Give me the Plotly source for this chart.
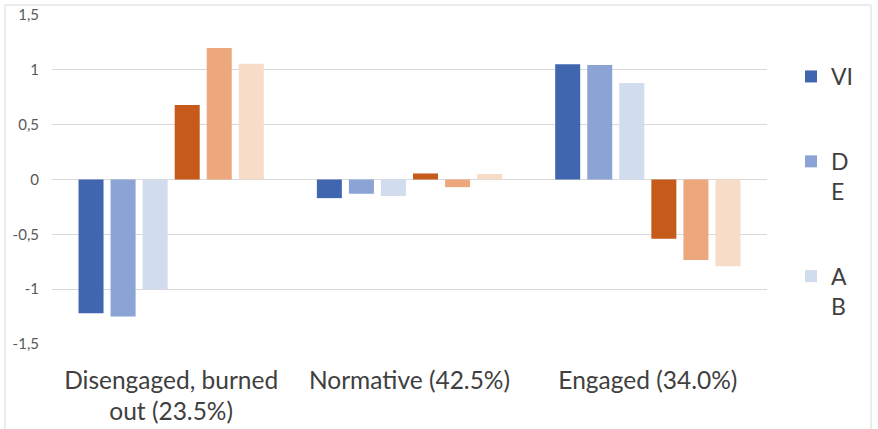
import plotly.graph_objects as go

# Cluster categories and the six series of standardized scores
categories = ["Disengaged, burned<br>out (23.5%)", "Normative (42.5%)", "Engaged (34.0%)"]
series_names = ["VI", "D<br>E", "A<br>B", "VI (2)", "DE (2)", "AB (2)"]
vi_blue = [-1.22, -0.17, 1.05]
de_blue = [-1.25, -0.13, 1.045]
ab_blue = [-1.00, -0.15, 0.88]
vi_orange = [0.68, 0.055, -0.54]
de_orange = [1.20, -0.07, -0.735]
ab_orange = [1.055, 0.05, -0.79]

y_tickvals = [-1.5, -1, -0.5, 0, 0.5, 1, 1.5]
y_ticktext = ["-1,5", "-1", "-0,5", "0", "0,5", "1", "1,5"]

colors = ["#4066b0", "#8ba4d5", "#d1dcee", "#c55a1b", "#eca87c", "#f7dcc8"]
values = [vi_blue, de_blue, ab_blue, vi_orange, de_orange, ab_orange]
in_legend = [True, True, True, False, False, False]

FONT = "Lato, Noto Sans, sans-serif"

fig = go.Figure()
for i, (name, vals, col, show) in enumerate(zip(series_names, values, colors, in_legend)):
    fig.add_trace(go.Bar(
        x=categories, y=vals, name=name,
        marker=dict(color=col, line=dict(width=0)),
        showlegend=show, legendgroup=f"g{i}",
    ))

fig.update_layout(
    width=878, height=429,
    margin=dict(l=52, r=111, t=15, b=85, autoexpand=False),
    paper_bgcolor="white", plot_bgcolor="white",
    barmode="group", bargap=0.193, bargroupgap=0.22,
    font=dict(family=FONT, color="#404040"),
    legend=dict(
        xref="container", yref="container",
        x=791 / 878, xanchor="left",
        y=1 - 55 / 429, yanchor="top",
        traceorder="grouped", tracegroupgap=52,
        valign="top", maxheight=400,
        font=dict(size=23, color="#404040", family=FONT),
        bgcolor="rgba(0,0,0,0)",
    ),
    shapes=[dict(
        type="rect", xref="paper", yref="paper",
        x0=-47 / 715, x1=819 / 715, y0=-0.5, y1=1 + 10 / 329,
        line=dict(color="#d9d9d9", width=1), fillcolor="rgba(0,0,0,0)", layer="below",
    )],
)

fig.update_yaxes(
    range=[-1.5, 1.5], tickvals=y_tickvals, ticktext=y_ticktext,
    showgrid=True, gridcolor="#d9d9d9", gridwidth=1,
    zeroline=True, zerolinecolor="#d9d9d9", zerolinewidth=1,
    showline=False, ticks="",
    tickfont=dict(size=15, color="#595959", family=FONT),
    ticklabelstandoff=12,
)
fig.update_xaxes(
    showgrid=False, showline=False, ticks="",
    tickfont=dict(size=24.5, color="#404040", family=FONT),
    ticklabelstandoff=19,
)

fig.write_html("out.html")
